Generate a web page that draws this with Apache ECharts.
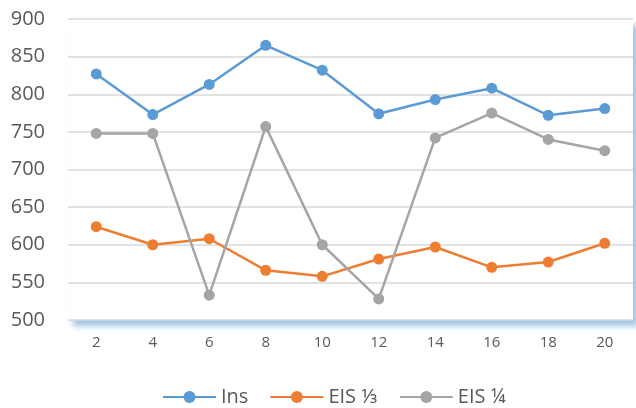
<!DOCTYPE html>
<html>
<head>
<meta charset="utf-8">
<script src="https://cdn.jsdelivr.net/npm/echarts@6/dist/echarts.min.js"></script>
<style>
  html, body { margin: 0; padding: 0; background: #ffffff; }
  #chart { width: 636px; height: 408px; }
</style>
</head>
<body>
<div id="chart"></div>
<script>
// Sample sizes along the horizontal axis
const categories = ['2', '4', '6', '8', '10', '12', '14', '16', '18', '20'];

// Series values
const insValues   = [827, 773, 813, 865, 832, 774, 793, 808, 772, 781];
const eis13Values = [624, 600, 608, 566, 558, 581, 597, 570, 577, 602];
const eis14Values = [748, 748, 533, 757, 600, 528, 742, 775, 740, 725];

// Series names
const seriesNames = ['Ins', 'EIS \u2153', 'EIS \u00BC'];
const seriesColors = ['#5B9BD5', '#ED7D31', '#A5A5A5'];

const FONT = '"Open Sans", "Noto Sans", sans-serif';

const chart = echarts.init(document.getElementById('chart'), null, { renderer: 'canvas' });

function lineSeries(name, data, color) {
  return {
    name: name,
    type: 'line',
    data: data,
    symbol: 'circle',
    symbolSize: 11,
    showSymbol: true,
    lineStyle: { color: color, width: 2.5 },
    itemStyle: { color: color },
    emphasis: { disabled: true },
    animation: false
  };
}

chart.setOption({
  animation: false,
  backgroundColor: '#ffffff',
  textStyle: { fontFamily: FONT },
  grid: {
    left: 68,
    right: 3,
    top: 19,
    bottom: 88,
    show: true,
    backgroundColor: '#ffffff',
    borderWidth: 0,
    borderColor: 'transparent',
    shadowColor: 'rgba(91,155,213,0.6)',
    shadowBlur: 6,
    shadowOffsetX: 5,
    shadowOffsetY: 6
  },
  legend: {
    left: 157,
    top: 382,
    itemWidth: 53,
    itemHeight: 15,
    itemGap: 21,
    textStyle: { color: '#595959', fontSize: 20, fontFamily: FONT },
    data: seriesNames
  },
  xAxis: {
    type: 'category',
    data: categories,
    boundaryGap: true,
    axisLine: { show: false },
    axisTick: { show: false },
    axisLabel: { color: '#595959', fontSize: 15, margin: 15, fontFamily: FONT },
    splitLine: { show: false }
  },
  yAxis: {
    type: 'value',
    min: 500,
    max: 900,
    interval: 50,
    axisLine: { show: false },
    axisTick: { show: false },
    axisLabel: { color: '#595959', fontSize: 20, margin: 23, fontFamily: FONT },
    splitLine: { lineStyle: { color: '#D9D9D9', width: 1.5 } }
  },
  series: [
    lineSeries(seriesNames[0], insValues, seriesColors[0]),
    lineSeries(seriesNames[1], eis13Values, seriesColors[1]),
    lineSeries(seriesNames[2], eis14Values, seriesColors[2])
  ]
});
</script>
</body>
</html>
